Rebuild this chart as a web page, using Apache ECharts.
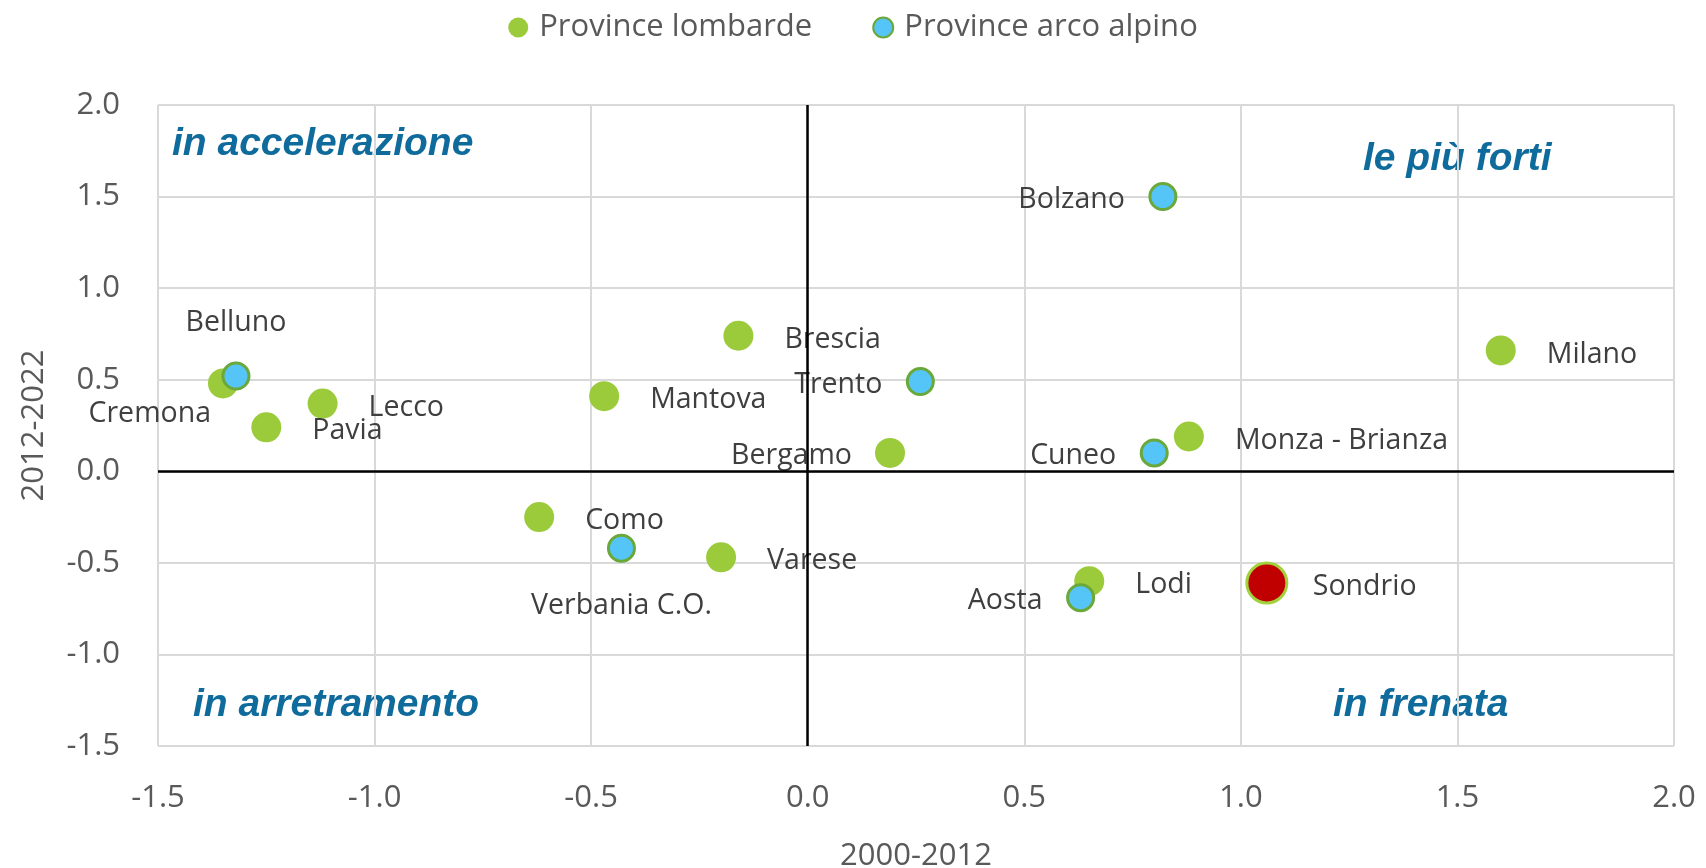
<!DOCTYPE html>
<html>
<head>
<meta charset="utf-8">
<style>
    html, body { margin: 0; padding: 0; background: #fff; }
    #chart { width: 1706px; height: 868px; }
</style>
</head>
<body>
<div id="chart"></div>
<script src="https://cdn.jsdelivr.net/npm/echarts@6.0.0/dist/echarts.min.js"></script>
<script>
    // province lombarde
    var lombardeNames = ['Cremona', 'Pavia', 'Lecco', 'Mantova', 'Brescia', 'Bergamo', 'Como', 'Varese', 'Lodi', 'Monza - Brianza', 'Milano', 'Sondrio'];
    var lombardeX = [-1.35, -1.25, -1.12, -0.47, -0.16, 0.19, -0.62, -0.20, 0.65, 0.88, 1.60, 1.06];
    var lombardeY = [0.48, 0.24, 0.37, 0.41, 0.74, 0.10, -0.25, -0.47, -0.60, 0.19, 0.66, -0.61];

    // province arco alpino
    var alpineNames = ['Belluno', 'Bolzano', 'Trento', 'Cuneo', 'Verbania C.O.', 'Aosta'];
    var alpineX = [-1.32, 0.82, 0.26, 0.80, -0.43, 0.63];
    var alpineY = [0.52, 1.50, 0.49, 0.10, -0.42, -0.69];

    var axisTicks = [-1.5, -1.0, -0.5, 0.0, 0.5, 1.0, 1.5, 2.0];
    var seriesNames = ['Province lombarde', 'Province arco alpino'];
    var highlight = 'Sondrio';

    /* where each label sits relative to its point */
    var labelSide = {
        'Cremona': 'lowleft', 'Belluno': 'top', 'Verbania C.O.': 'bottom',
        'Trento': 'left', 'Bergamo': 'left', 'Bolzano': 'left', 'Cuneo': 'left', 'Aosta': 'left'
    };
    var sides = {
        right:   { align: 'left',   offset: [46, 4] },
        left:    { align: 'right',  offset: [-38, 3] },
        top:     { align: 'center', offset: [0, -53] },
        bottom:  { align: 'center', offset: [0, 58] },
        lowleft: { align: 'right',  offset: [-12, 30] }
    };

    var green = '#9BCB3B';
    var labelText = { color: '#3F3F3F', fontSize: 28.5, fontFamily: 'Open Sans' };

    function makeLabel(name) {
        var s = sides[labelSide[name] || 'right'];
        return Object.assign({
            show: true, position: 'inside', formatter: '{b}',
            align: s.align, verticalAlign: 'middle', offset: s.offset
        }, labelText);
    }

    function points(names, xs, ys) {
        return names.map(function (n, i) {
            var p = { name: n, value: [xs[i], ys[i]], label: makeLabel(n) };
            if (n === highlight) {
                p.symbolSize = 40;
                p.itemStyle = { color: '#C00000', borderColor: '#A3D13E', borderWidth: 3, opacity: 1 };
            }
            return p;
        });
    }

    var tickFmt = function (v) { return v.toFixed(1); };
    var axisFont = { color: '#595959', fontSize: 31, fontFamily: 'Open Sans' };
    var nameFont = { color: '#595959', fontSize: 31, fontFamily: 'Open Sans' };

    var quadFont = 'italic bold 39px "Liberation Sans", Arial, sans-serif';
    var quadColor = '#0F6B9B';
    function quad(text, x, y) {
        return { type: 'text', x: x, y: y, silent: true,
            style: { text: text, font: quadFont, fill: quadColor, verticalAlign: 'middle', align: 'left' } };
    }

    var option = {
        animation: false,
        backgroundColor: '#fff',
        legend: {
            top: 7,
            left: 'center',
            itemWidth: 20,
            itemHeight: 20,
            itemGap: 60,
            icon: 'circle',
            data: seriesNames,
            textStyle: { color: '#595959', fontSize: 31, fontFamily: 'Open Sans', padding: [0, 0, 0, 6] }
        },
        grid: { left: 158, right: 32, top: 105, bottom: 122, outerBoundsMode: 'none' },
        xAxis: {
            type: 'value', min: axisTicks[0], max: axisTicks[axisTicks.length - 1], interval: 0.5,
            name: '2000-2012', nameLocation: 'middle', nameGap: 95,
            nameTextStyle: nameFont,
            axisLine: { show: false }, axisTick: { show: false },
            axisLabel: Object.assign({ margin: 37, formatter: tickFmt }, axisFont),
            splitLine: { show: true, lineStyle: { color: '#D9D9D9', width: 2 } }
        },
        yAxis: {
            type: 'value', min: axisTicks[0], max: axisTicks[axisTicks.length - 1], interval: 0.5,
            name: '2012-2022', nameLocation: 'middle', nameGap: 108, nameRotate: 90,
            nameTextStyle: nameFont,
            axisLine: { show: false }, axisTick: { show: false },
            axisLabel: Object.assign({ margin: 38, formatter: tickFmt }, axisFont),
            splitLine: { show: true, lineStyle: { color: '#D9D9D9', width: 2 } }
        },
        series: [{
            name: seriesNames[0],
            type: 'scatter',
            symbolSize: 30,
            itemStyle: { color: green, opacity: 1 },
            emphasis: { disabled: true },
            data: points(lombardeNames, lombardeX, lombardeY),
            markLine: {
                silent: true, symbol: 'none', label: { show: false },
                lineStyle: { color: '#000', type: 'solid', width: 2.5 },
                data: [{ xAxis: 0 }, { yAxis: 0 }]
            }
        }, {
            name: seriesNames[1],
            type: 'scatter',
            symbolSize: 26,
            itemStyle: { color: '#55C5F7', borderColor: '#6AA83A', borderWidth: 3, opacity: 1 },
            emphasis: { disabled: true },
            data: points(alpineNames, alpineX, alpineY)
        }],
        graphic: [
            quad('in accelerazione', 172, 144),
            quad('le più forti', 1363, 159),
            quad('in arretramento', 193, 705),
            quad('in frenata', 1333, 705)
        ]
    };

    echarts.init(document.getElementById('chart')).setOption(option);
</script>
</body>
</html>
